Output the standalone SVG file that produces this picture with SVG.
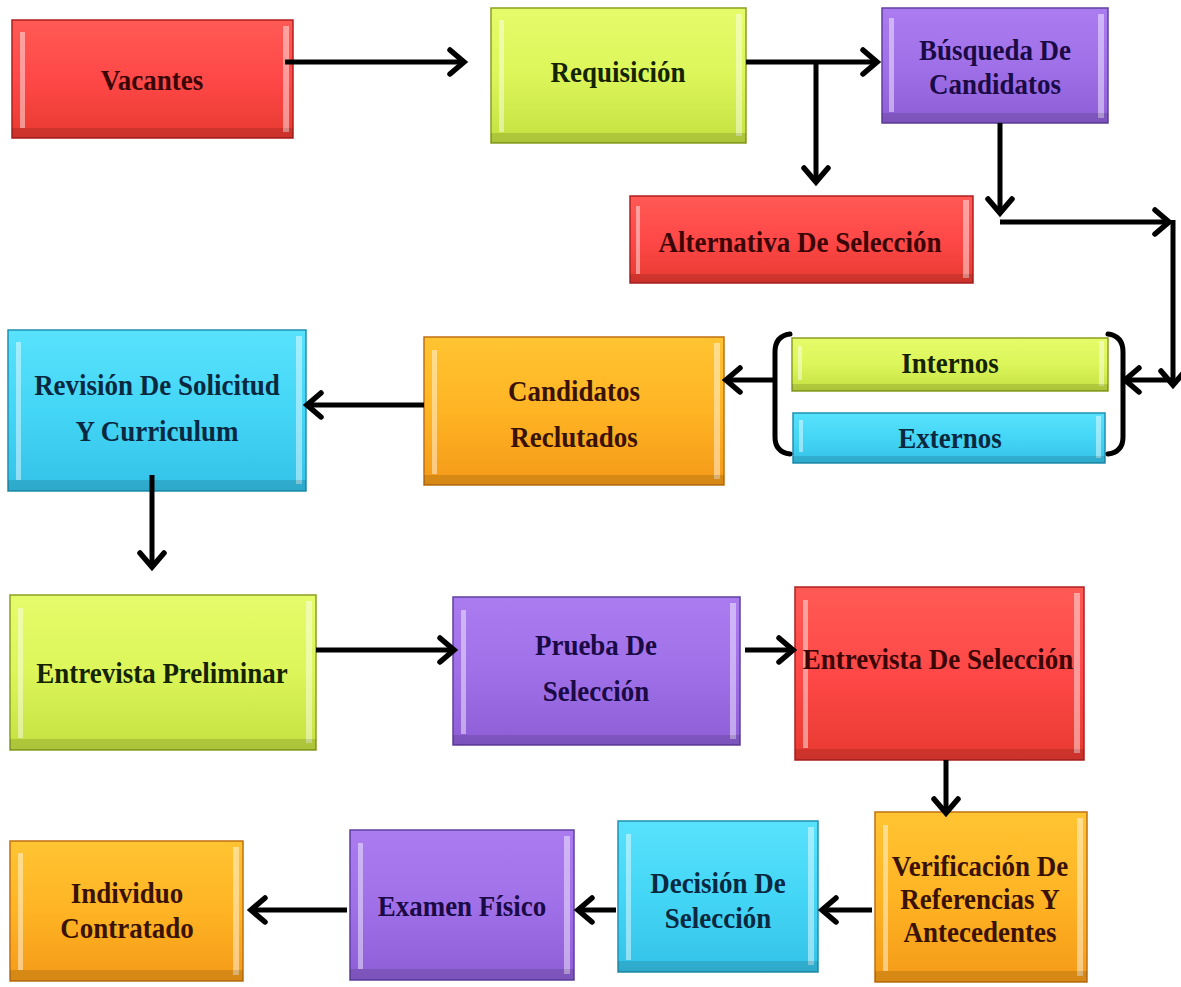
<svg xmlns="http://www.w3.org/2000/svg" width="1181" height="987" viewBox="0 0 1181 987">
<style>
  text { font-family: "Liberation Serif", "Times New Roman", serif; font-weight: bold; font-size: 29px; text-anchor: middle; transform-box: fill-box; transform-origin: center; transform: scaleX(0.93); }
  .red .base { fill: url(#gRed); stroke: #b02020; }
  .red text { fill: #3a0505; }
  .green .base { fill: url(#gGreen); stroke: #8aa020; }
  .green text { fill: #142400; }
  .purple .base { fill: url(#gPurple); stroke: #6040a0; }
  .purple text { fill: #1a0a45; }
  .blue .base { fill: url(#gBlue); stroke: #2090b0; }
  .blue text { fill: #0a2840; }
  .orange .base { fill: url(#gOrange); stroke: #c07010; }
  .orange text { fill: #3a1204; }
  .base { stroke-width: 1.5; }
  .hl { fill: #ffffff; opacity: 0.45; }
  .sh { fill: #000000; opacity: 0.12; }
  .conn line, .conn path { stroke: #000; stroke-width: 5; fill: none; }
  .br { stroke: #000; stroke-width: 5; fill: none; stroke-linecap: round; }
</style>
<defs>
  <linearGradient id="gRed" x1="0" y1="0" x2="0" y2="1">
    <stop offset="0" stop-color="#ff5a55"/><stop offset="0.5" stop-color="#ff4848"/><stop offset="1" stop-color="#e83a30"/>
  </linearGradient>
  <linearGradient id="gGreen" x1="0" y1="0" x2="0" y2="1">
    <stop offset="0" stop-color="#e6fb6a"/><stop offset="0.5" stop-color="#dcf65a"/><stop offset="1" stop-color="#c4e040"/>
  </linearGradient>
  <linearGradient id="gPurple" x1="0" y1="0" x2="0" y2="1">
    <stop offset="0" stop-color="#ab7cf0"/><stop offset="0.5" stop-color="#a070e8"/><stop offset="1" stop-color="#8e5ed6"/>
  </linearGradient>
  <linearGradient id="gBlue" x1="0" y1="0" x2="0" y2="1">
    <stop offset="0" stop-color="#58e2fc"/><stop offset="0.5" stop-color="#44d6f6"/><stop offset="1" stop-color="#34c2e8"/>
  </linearGradient>
  <linearGradient id="gOrange" x1="0" y1="0" x2="0" y2="1">
    <stop offset="0" stop-color="#ffc432"/><stop offset="0.5" stop-color="#ffb424"/><stop offset="1" stop-color="#f49a18"/>
  </linearGradient>
  <marker id="ah" markerWidth="24" markerHeight="30" refX="17" refY="15" orient="auto" markerUnits="userSpaceOnUse" viewBox="0 0 24 30">
    <path d="M3,3 L17,15 L3,27" fill="none" stroke="#000" stroke-width="5.5" stroke-linecap="round" stroke-linejoin="miter"/>
  </marker>
</defs>
<rect width="1181" height="987" fill="#ffffff"/>

<g id="vacantes" class="red">
  <rect class="base" x="12" y="20" width="281" height="118"/>
  <rect class="hl" x="20" y="32" width="5" height="96"/><rect class="hl" x="283" y="26" width="6" height="106"/>
  <rect class="sh" x="12" y="128" width="281" height="10"/>
  <text x="152" y="90">Vacantes</text>
</g>
<g id="requisicion" class="green">
  <rect class="base" x="491" y="8" width="255" height="135"/>
  <rect class="hl" x="499" y="20" width="5" height="112"/><rect class="hl" x="736" y="14" width="6" height="122"/>
  <rect class="sh" x="491" y="133" width="255" height="10"/>
  <text x="618" y="82">Requisición</text>
</g>
<g id="busqueda" class="purple">
  <rect class="base" x="882" y="8" width="226" height="115"/>
  <rect class="hl" x="889" y="18" width="5" height="94"/><rect class="hl" x="1098" y="14" width="6" height="104"/>
  <rect class="sh" x="882" y="113" width="226" height="10"/>
  <text x="995" y="60">Búsqueda De</text>
  <text x="995" y="94">Candidatos</text>
</g>
<g id="alternativa" class="red">
  <rect class="base" x="630" y="196" width="343" height="87"/>
  <rect class="hl" x="636" y="206" width="4" height="68"/><rect class="hl" x="963" y="200" width="6" height="78"/>
  <rect class="sh" x="630" y="274" width="343" height="9"/>
  <text x="800" y="252">Alternativa De Selección</text>
</g>
<g id="revision" class="blue">
  <rect class="base" x="8" y="330" width="298" height="161"/>
  <rect class="hl" x="16" y="342" width="5" height="138"/><rect class="hl" x="296" y="336" width="6" height="148"/>
  <rect class="sh" x="8" y="480" width="298" height="11"/>
  <text x="157" y="395">Revisión De Solicitud</text>
  <text x="157" y="441">Y Curriculum</text>
</g>
<g id="reclutados" class="orange">
  <rect class="base" x="424" y="337" width="300" height="148"/>
  <rect class="hl" x="432" y="350" width="5" height="124"/><rect class="hl" x="714" y="343" width="6" height="136"/>
  <rect class="sh" x="424" y="475" width="300" height="10"/>
  <text x="574" y="401">Candidatos</text>
  <text x="574" y="447">Reclutados</text>
</g>
<g id="internos" class="green">
  <rect class="base" x="792" y="338" width="316" height="53"/>
  <rect class="hl" x="798" y="346" width="4" height="34"/><rect class="hl" x="1099" y="341" width="5" height="45"/>
  <rect class="sh" x="792" y="384" width="316" height="7"/>
  <text x="950" y="373">Internos</text>
</g>
<g id="externos" class="blue">
  <rect class="base" x="793" y="413" width="312" height="50"/>
  <rect class="hl" x="799" y="420" width="4" height="32"/><rect class="hl" x="1096" y="416" width="5" height="42"/>
  <rect class="sh" x="793" y="456" width="312" height="7"/>
  <text x="950" y="448">Externos</text>
</g>
<g id="preliminar" class="green">
  <rect class="base" x="10" y="595" width="306" height="155"/>
  <rect class="hl" x="18" y="608" width="5" height="130"/><rect class="hl" x="306" y="601" width="6" height="142"/>
  <rect class="sh" x="10" y="739" width="306" height="11"/>
  <text x="162" y="683">Entrevista Preliminar</text>
</g>
<g id="prueba" class="purple">
  <rect class="base" x="453" y="597" width="287" height="148"/>
  <rect class="hl" x="461" y="610" width="5" height="124"/><rect class="hl" x="730" y="603" width="6" height="136"/>
  <rect class="sh" x="453" y="735" width="287" height="10"/>
  <text x="596" y="655">Prueba De</text>
  <text x="596" y="701">Selección</text>
</g>
<g id="entrevista-seleccion" class="red">
  <rect class="base" x="795" y="587" width="289" height="173"/>
  <rect class="hl" x="803" y="600" width="5" height="148"/><rect class="hl" x="1074" y="593" width="6" height="160"/>
  <rect class="sh" x="795" y="749" width="289" height="11"/>
  <text x="938" y="669">Entrevista De Selección</text>
</g>
<g id="verificacion" class="orange">
  <rect class="base" x="875" y="812" width="212" height="170"/>
  <rect class="hl" x="883" y="825" width="5" height="146"/><rect class="hl" x="1077" y="818" width="6" height="158"/>
  <rect class="sh" x="875" y="971" width="212" height="11"/>
  <text x="980" y="876">Verificación De</text>
  <text x="980" y="909">Referencias Y</text>
  <text x="980" y="942">Antecedentes</text>
</g>
<g id="decision" class="blue">
  <rect class="base" x="618" y="821" width="200" height="151"/>
  <rect class="hl" x="626" y="834" width="5" height="126"/><rect class="hl" x="808" y="827" width="6" height="138"/>
  <rect class="sh" x="618" y="961" width="200" height="11"/>
  <text x="718" y="893">Decisión De</text>
  <text x="718" y="928">Selección</text>
</g>
<g id="examen" class="purple">
  <rect class="base" x="350" y="830" width="224" height="150"/>
  <rect class="hl" x="358" y="843" width="5" height="126"/><rect class="hl" x="564" y="836" width="6" height="138"/>
  <rect class="sh" x="350" y="969" width="224" height="11"/>
  <text x="462" y="916">Examen Físico</text>
</g>
<g id="contratado" class="orange">
  <rect class="base" x="10" y="841" width="233" height="140"/>
  <rect class="hl" x="18" y="853" width="5" height="117"/><rect class="hl" x="233" y="847" width="6" height="128"/>
  <rect class="sh" x="10" y="970" width="233" height="11"/>
  <text x="127" y="903">Individuo</text>
  <text x="127" y="938">Contratado</text>
</g>

<g id="connectors" class="conn">
  <line x1="285" y1="62" x2="464" y2="62" marker-end="url(#ah)"/>
  <line x1="746" y1="62" x2="877" y2="62" marker-end="url(#ah)"/>
  <line x1="816" y1="62" x2="816" y2="182" marker-end="url(#ah)"/>
  <line x1="1000" y1="123" x2="1000" y2="213" marker-end="url(#ah)"/>
  <line x1="1000" y1="222" x2="1169" y2="222" marker-end="url(#ah)"/>
  <line x1="1173" y1="220" x2="1173" y2="385" marker-end="url(#ah)"/>
  <line x1="1173" y1="380" x2="1125" y2="380" marker-end="url(#ah)"/>
  <line x1="775" y1="380" x2="726" y2="380" marker-end="url(#ah)"/>
  <line x1="424" y1="405" x2="307" y2="405" marker-end="url(#ah)"/>
  <line x1="152" y1="475" x2="152" y2="567" marker-end="url(#ah)"/>
  <line x1="316" y1="650" x2="454" y2="650" marker-end="url(#ah)"/>
  <line x1="745" y1="650" x2="793" y2="650" marker-end="url(#ah)"/>
  <line x1="946" y1="760" x2="946" y2="813" marker-end="url(#ah)"/>
  <line x1="872" y1="910" x2="822" y2="910" marker-end="url(#ah)"/>
  <line x1="616" y1="910" x2="578" y2="910" marker-end="url(#ah)"/>
  <line x1="347" y1="910" x2="251" y2="910" marker-end="url(#ah)"/>
  <path class="br" d="M790,334 Q775,336 775,352 L775,437 Q775,452 790,454"/>
  <path class="br" d="M1108,334 Q1123,336 1123,352 L1123,437 Q1123,452 1108,454"/>
</g>
</svg>
